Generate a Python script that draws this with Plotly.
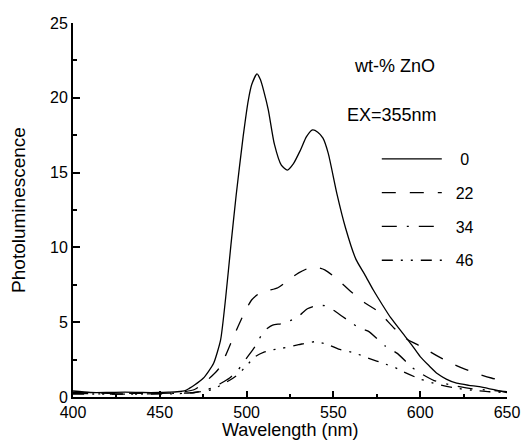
import plotly.graph_objects as go

# ---- data ----
wl_0 = [400, 410, 420, 430, 440, 450, 455, 460, 465, 467, 470, 475, 478, 481, 485, 488, 491, 494, 498, 501, 503, 506, 508, 510, 512.5, 516, 520, 523.5, 527, 531, 534.5, 538, 541, 544, 547, 552, 557, 563, 568, 573, 578, 583, 590, 595, 600, 605, 610, 615, 621, 628, 634, 640, 645, 650]
pl_0 = [0.4, 0.3, 0.3, 0.32, 0.3, 0.3, 0.32, 0.35, 0.45, 0.58, 0.8, 1.25, 1.7, 2.25, 3.8, 6.7, 10.2, 13.5, 17.4, 19.85, 20.9, 21.6, 21.2, 20.4, 19.2, 16.9, 15.5, 15.17, 15.6, 16.5, 17.4, 17.85, 17.7, 17.3, 16.3, 13.6, 11.3, 9.2, 8.2, 7.15, 6.2, 5.3, 4.25, 3.5, 2.7, 2.1, 1.55, 1.2, 0.92, 0.78, 0.69, 0.55, 0.42, 0.29]

wl_22 = [400, 420, 440, 460, 470, 475, 480, 484, 488, 492, 495, 499, 503, 507, 512, 518, 524, 530, 538, 545, 552, 560, 568, 576, 585, 592, 600, 609, 617, 625, 633, 641, 650]
pl_22 = [0.3, 0.25, 0.25, 0.28, 0.5, 0.9, 1.4, 1.9, 2.8, 3.9, 4.7, 5.7, 6.5, 6.9, 7.1, 7.3, 7.8, 8.3, 8.7, 8.5, 7.9, 7.05, 6.3, 5.7, 4.6, 3.9, 3.4, 2.8, 2.3, 1.9, 1.55, 1.27, 1.0]

wl_34 = [400, 420, 440, 460, 470, 480, 485, 490, 495, 500, 505, 510, 515, 520, 525, 530, 535, 540, 545, 550, 555, 560, 565, 570, 580, 587, 595, 600, 608, 620, 630, 640, 650]
pl_34 = [0.25, 0.2, 0.2, 0.25, 0.3, 0.6, 0.9, 1.25, 1.8, 2.6, 3.4, 4.4, 4.8, 4.9, 5.1, 5.4, 5.9, 6.1, 6.1, 5.8, 5.4, 5.0, 4.6, 4.4, 3.4, 2.9, 2.0, 1.6, 1.1, 0.75, 0.55, 0.45, 0.35]

wl_46 = [400, 420, 440, 460, 470, 480, 490, 495, 500, 505, 510, 515, 520, 530, 540, 548, 553, 562, 570, 580, 585, 590, 600, 610, 620, 630, 640, 650]
pl_46 = [0.2, 0.2, 0.2, 0.22, 0.3, 0.5, 1.1, 1.5, 2.1, 2.7, 3.0, 3.15, 3.25, 3.5, 3.7, 3.45, 3.2, 2.95, 2.6, 2.2, 2.0, 1.7, 1.2, 0.85, 0.6, 0.45, 0.35, 0.3]

series_names = ["0", "22", "34", "46"]
x_ticks = [400, 450, 500, 550, 600, 650]
y_ticks = [0, 5, 10, 15, 20, 25]

FONT = "Liberation Sans, Arial, sans-serif"
NB = "\u00a0"
legend_pad = [NB * 3, NB * 2, NB * 2, NB * 2]
dashes = ["solid", "14px,14px", "15px,10px,2px,10px", "11px,8px,2px,8px,2px,8px"]

fig = go.Figure()
for i, (x, y) in enumerate([(wl_0, pl_0), (wl_22, pl_22), (wl_34, pl_34), (wl_46, pl_46)]):
    fig.add_trace(go.Scatter(
        x=x, y=y, mode="lines", name=legend_pad[i] + series_names[i], legendgroup="g" + str(i),
        line=dict(color="black", width=1.3, dash=dashes[i], shape="spline", smoothing=0.6),
    ))

fig.update_layout(
    width=522, height=443,
    margin=dict(l=73, r=15, t=23, b=46, autoexpand=False),
    paper_bgcolor="white", plot_bgcolor="white",
    font=dict(family=FONT, size=16, color="black"),
    showlegend=True,
    legend=dict(x=0.70, y=0.682, xanchor="left", yanchor="top",
                bgcolor="rgba(0,0,0,0)", font=dict(size=16),
                tracegroupgap=10, itemwidth=60),
    annotations=[
        dict(text="wt-% ZnO", x=0.74, y=0.885, xref="paper", yref="paper",
             xanchor="center", yanchor="middle", showarrow=False, font=dict(size=18)),
        dict(text="EX=355nm", x=0.734, y=0.755, xref="paper", yref="paper",
             xanchor="center", yanchor="middle", showarrow=False, font=dict(size=18)),
        dict(text="Wavelength (nm)", x=0.5, y=-0.089, xref="paper", yref="paper",
             xanchor="center", yanchor="middle", showarrow=False, font=dict(size=18)),
    ],
)
fig.update_xaxes(
    range=[400, 650], tickvals=x_ticks, ticks="inside", ticklen=6, tickwidth=1.5,
    tickcolor="black", showline=True, linecolor="black", linewidth=2,
    showgrid=False, zeroline=False, automargin=False,
    minor=dict(dtick=25, ticks="inside", ticklen=3, tickwidth=1.5, tickcolor="black", showgrid=False),
    tickfont=dict(size=16),
)
fig.update_yaxes(
    range=[0, 25], tickvals=y_ticks, ticks="inside", ticklen=7, tickwidth=1.5,
    tickcolor="black", showline=True, linecolor="black", linewidth=2,
    showgrid=False, zeroline=False, automargin=False,
    minor=dict(dtick=2.5, ticks="inside", ticklen=4, tickwidth=1.5, tickcolor="black", showgrid=False),
    title=dict(text="Photoluminescence", font=dict(size=19), standoff=19),
    tickfont=dict(size=16),
)

fig.write_html("out.html", config={"displayModeBar": False},
               post_script="document.body.style.margin='0px';document.body.style.padding='0px';")
